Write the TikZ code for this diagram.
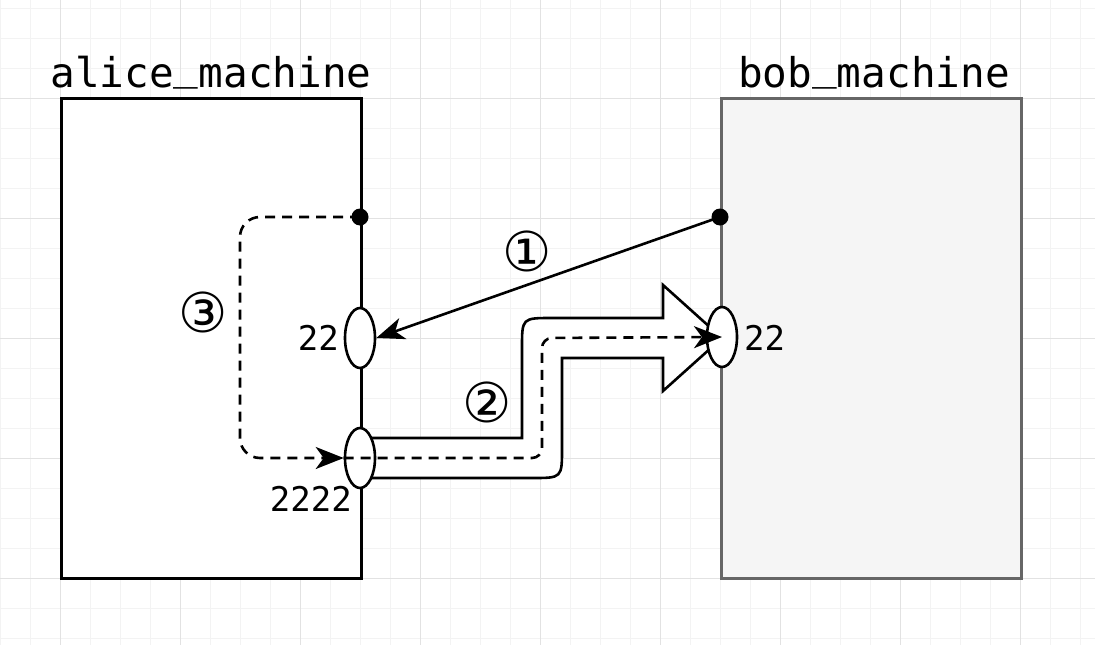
\documentclass[tikz,border=0pt]{standalone}
\usepackage{fontspec}
\setmonofont{DejaVu Sans Mono}
\newfontfamily\circfont{DejaVu Sans}
\usetikzlibrary{arrows.meta,shapes.geometric}
\definecolor{gridminor}{HTML}{F3F3F3}
\definecolor{gridmajor}{HTML}{E2E2E2}
\definecolor{bobfill}{HTML}{F5F5F5}
\definecolor{bobline}{HTML}{666666}
\newcommand{\us}{\raisebox{8pt}{\char"5F}}
\tikzset{
  machine/.style={draw, line width=3pt, inner sep=0pt, anchor=north west},
  port/.style={ellipse, draw, line width=2.6pt, fill=white, minimum width=30pt, minimum height=60pt, inner sep=0pt},
  dotnode/.style={circle, fill=black, minimum size=17pt, inner sep=0pt},
  title/.style={font=\ttfamily\fontsize{41}{41}\selectfont, inner sep=0pt},
  portlabel/.style={font=\ttfamily\fontsize{34}{34}\selectfont, inner sep=0pt},
  circnum/.style={font=\circfont\fontsize{55}{55}\selectfont, inner sep=0pt},
  conn/.style={line width=2.6pt, -{Stealth[length=28pt,width=22pt,inset=8pt]}},
  dashconn/.style={line width=2.6pt, dash pattern=on 10pt off 7pt, -{Stealth[length=28pt,width=22pt,inset=8pt]}},
}
\begin{document}
\begin{tikzpicture}[x=1pt,y=-1pt]
\useasboundingbox (0,0) rectangle (1095,645);
\fill[white] (0,0) rectangle (1095,645);
% grid
\foreach \x in {0,30,...,1095} \draw[gridminor, line width=1pt] (\x,0) -- (\x,645);
\foreach \y in {8,38,...,645} \draw[gridminor, line width=1pt] (0,\y) -- (1095,\y);
\foreach \x in {60,180,...,1095} \draw[gridmajor, line width=1pt] (\x,0) -- (\x,645);
\foreach \y in {98,218,...,645} \draw[gridmajor, line width=1pt] (0,\y) -- (1095,\y);
% machines
\node[machine, fill=white, minimum width=300pt, minimum height=480pt] (alice) at (60,97) {};
\node[machine, draw=bobline, fill=bobfill, minimum width=300pt, minimum height=480pt] (bob) at (720,97) {};
\node[title, anchor=base] (alicet) at (211,87) {alice\us machine};
\node[title, anchor=base] (bobt) at (874,87) {bob\us machine};
% big flex arrow (2)
\draw[line width=2.6pt, fill=white, line join=miter]
  (360,438) -- (522,438) -- (522,348) .. controls (522,318) .. (552,318)
  -- (663,318) -- (663,285) -- (722,338) -- (663,391) -- (663,358)
  -- (562,358) -- (562,448) .. controls (562,478) .. (532,478) -- (360,478) -- cycle;
% ports
\node[port] (a22) at (360,338) {};
\node[port] (a2222) at (360,458) {};
\node[port] (b22) at (722,337) {};
\node[dotnode] (ad) at (360,217) {};
\node[dotnode] (bd) at (720,217) {};
% coordinates
\coordinate (c3a) at (240,217);
\coordinate (c3b) at (240,458);
\coordinate (c2a) at (542,458);
\coordinate (c2b) at (542,338);
% connectors
\draw[conn] (bd.center) -- (a22.east);
\draw[dashconn, rounded corners=20pt] (ad.center) -- (c3a) -- (c3b) -- (a2222.west);
\draw[dashconn, rounded corners=10pt] (a2222.west) -- (c2a) -- (c2b) -- (b22.center);
% labels
\node[portlabel, anchor=base east] (l22a) at (339,350) {22};
\node[portlabel, anchor=base west] (l22b) at (744,350) {22};
\node[portlabel, anchor=base east] (l2222) at (352,511) {2222};
\node[circnum] (n1) at (527,251) {①};
\node[circnum] (n2) at (487,402) {②};
\node[circnum] (n3) at (203,312) {③};
\end{tikzpicture}
\end{document}
